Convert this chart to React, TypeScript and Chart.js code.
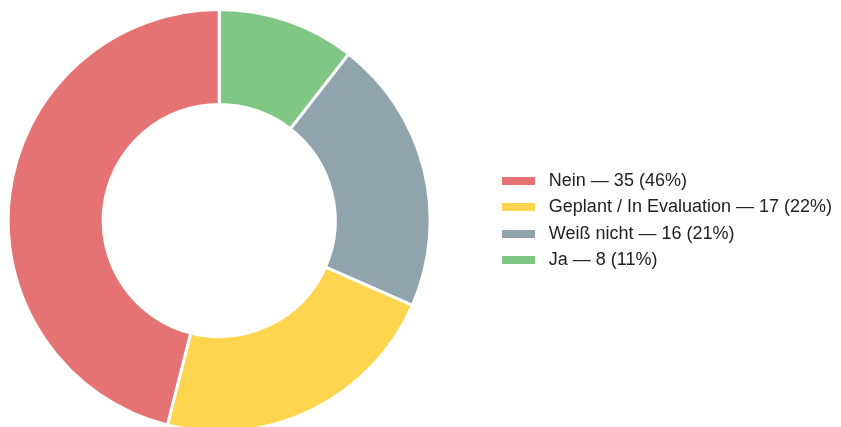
import React, { useEffect, useRef } from "react";
import { Chart, registerables } from "chart.js";

Chart.register(...registerables);

const categories = ["Ja", "Weiß nicht", "Geplant / In Evaluation", "Nein"];
const values = [8, 16, 17, 35];
const colors = ["#81C784", "#90A4AE", "#FFD54F", "#E57373"];

const total = values.reduce((a, b) => a + b, 0);
const labels = categories.map(
  (c, i) => `${c} — ${values[i]} (${Math.round((values[i] / total) * 100)}%)`
);

function makeMarker(color: string) {
  const c = document.createElement("canvas");
  c.width = 33;
  c.height = 8;
  const ctx = c.getContext("2d");
  if (ctx) {
    ctx.fillStyle = color;
    ctx.fillRect(0, 0, 33, 8);
  }
  return c;
}

export default function App() {
  const ref = useRef<HTMLCanvasElement | null>(null);

  useEffect(() => {
    if (!ref.current) return;
    const markers = colors.map(makeMarker);
    const chart = new Chart(ref.current, {
      type: "doughnut",
      data: {
        labels,
        datasets: [
          {
            data: values,
            backgroundColor: colors,
            borderColor: "#ffffff",
            borderWidth: 3,
          },
        ],
      },
      options: {
        responsive: false,
        animation: false,
        cutout: "55%",
        layout: { padding: 0 },
        plugins: {
          tooltip: { enabled: false },
          legend: {
            position: "right",
            reverse: true,
            labels: {
              usePointStyle: true,
              pointStyleWidth: 42,
              padding: 8.5,
              color: "#222",
              font: {
                family: '"Liberation Sans", Arial, Helvetica, sans-serif',
                size: 18,
              },
              generateLabels: (ch: any) =>
                (ch.data.labels as string[]).map((text, i) => ({
                  text,
                  fillStyle: colors[i],
                  strokeStyle: colors[i],
                  lineWidth: 0,
                  pointStyle: markers[i],
                  fontColor: "#222",
                  hidden: !ch.getDataVisibility(i),
                  index: i,
                })),
            },
          },
        },
      },
    });
    return () => chart.destroy();
  }, []);

  return (
    <div
      style={{
        position: "fixed",
        left: 0,
        top: 0,
        width: 841,
        height: 427,
        overflow: "hidden",
        background: "#fff",
      }}
    >
      <div style={{ position: "absolute", left: -51, top: 8, width: 893, height: 425 }}>
        <canvas ref={ref} width={893} height={425} />
      </div>
    </div>
  );
}
